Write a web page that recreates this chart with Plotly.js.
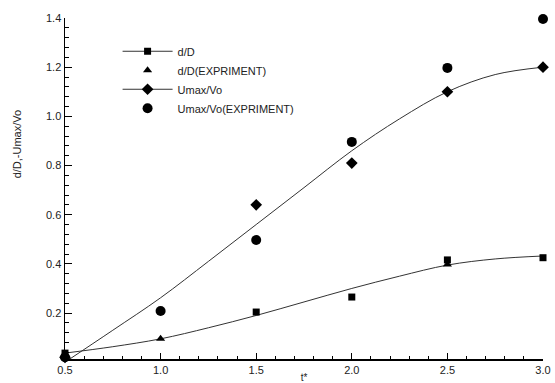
<!DOCTYPE html>
<html>
<head>
<meta charset="utf-8">
<script src="https://cdn.plot.ly/plotly-3.0.1.min.js"></script>
<style>html,body{margin:0;padding:0;background:#fff;}#chart{width:555px;height:383px;}</style>
</head>
<body>
<div id="chart"></div>
<script>
// fitted curves
var fitX = [0.5, 0.75, 1.0, 1.25, 1.5, 1.75, 2.0, 2.25, 2.5, 2.75, 3.0];
var fitDD = [0.037, 0.063, 0.095, 0.14, 0.19, 0.245, 0.30, 0.35, 0.395, 0.42, 0.432];
var fitU = [0.0, 0.13, 0.262, 0.41, 0.56, 0.71, 0.86, 0.99, 1.10, 1.17, 1.20];

// computed data points
var ddX = [0.5, 1.5, 2.0, 2.5, 3.0];
var ddY = [0.037, 0.204, 0.265, 0.416, 0.425];
var uX = [0.5, 1.5, 2.0, 2.5, 3.0];
var uY = [0.02, 0.64, 0.81, 1.10, 1.20];

// experimental points
var ddExpX = [0.5, 1.0, 2.5];
var ddExpY = [0.03, 0.095, 0.397];
var uExpX = [0.5, 1.0, 1.5, 2.0, 2.5, 3.0];
var uExpY = [0.02, 0.208, 0.497, 0.896, 1.197, 1.396];

var names = ['d/D', 'd/D(EXPRIMENT)', 'Umax/Vo', 'Umax/Vo(EXPRIMENT)'];

function isolate(arr) { // insert gaps so markers are not joined
  var out = [];
  arr.forEach(function (v, i) { if (i) out.push(null); out.push(v); });
  return out;
}

var lineCol = '#333';
var traces = [
  {x: fitX, y: fitDD, mode: 'lines', line: {shape: 'spline', smoothing: 1, color: lineCol, width: 1}, showlegend: false, hoverinfo: 'skip'},
  {x: fitX, y: fitU, mode: 'lines', line: {shape: 'spline', smoothing: 1, color: lineCol, width: 1}, showlegend: false, hoverinfo: 'skip'},
  {x: isolate(ddX), y: isolate(ddY), name: names[0], mode: 'lines+markers', connectgaps: false,
   line: {color: lineCol, width: 1}, marker: {symbol: 'square', size: 7, color: '#000'}, cliponaxis: false},
  {x: ddExpX, y: ddExpY, name: names[1], mode: 'markers',
   marker: {symbol: 'triangle-up', size: 8, color: '#000'}, cliponaxis: false},
  {x: isolate(uX), y: isolate(uY), name: names[2], mode: 'lines+markers', connectgaps: false,
   line: {color: lineCol, width: 1}, marker: {symbol: 'diamond', size: 9, color: '#000'}, cliponaxis: false},
  {x: uExpX, y: uExpY, name: names[3], mode: 'markers',
   marker: {symbol: 'circle', size: 10, color: '#000'}, cliponaxis: false}
];

var font = {family: 'Liberation Sans, Arial, sans-serif', size: 11, color: '#222'};
var layout = {
  width: 555, height: 383,
  margin: {l: 65, r: 12, t: 18, b: 24},
  paper_bgcolor: '#fff', plot_bgcolor: '#fff',
  font: font,
  showlegend: true,
  legend: {x: 0.11, y: 0.945, xanchor: 'left', yanchor: 'top', bgcolor: 'rgba(0,0,0,0)',
           itemwidth: 50, font: font, tracegroupgap: 0},
  xaxis: {
    range: [0.5, 3.0], tick0: 0.5, dtick: 0.5, tickformat: '.1f',
    ticks: 'inside', ticklen: 6, tickcolor: '#000', tickwidth: 1,
    minor: {dtick: 0.1, ticks: 'inside', ticklen: 3, tickcolor: '#000', showgrid: false},
    showline: true, linecolor: '#000', linewidth: 1.5, showgrid: false, zeroline: false,
    title: {text: 't*', font: {family: font.family, size: 10, color: '#222'}, standoff: 2}
  },
  yaxis: {
    range: [0.013, 1.4], tick0: 0.2, dtick: 0.2, tickformat: '.1f',
    ticks: 'inside', ticklen: 7, tickcolor: '#000', tickwidth: 1,
    minor: {dtick: 0.04, tick0: 0.2, ticks: 'inside', ticklen: 4, tickcolor: '#000', showgrid: false},
    showline: true, linecolor: '#000', linewidth: 1.5, showgrid: false, zeroline: false
  },
  annotations: [{
    text: 'd/D,-Umax/Vo', textangle: -90, xref: 'paper', yref: 'paper',
    x: -0.1, y: 0.63, xanchor: 'center', yanchor: 'middle', showarrow: false,
    font: font
  }]
};

Plotly.newPlot('chart', traces, layout, {displayModeBar: false, staticPlot: true});
</script>
</body>
</html>
